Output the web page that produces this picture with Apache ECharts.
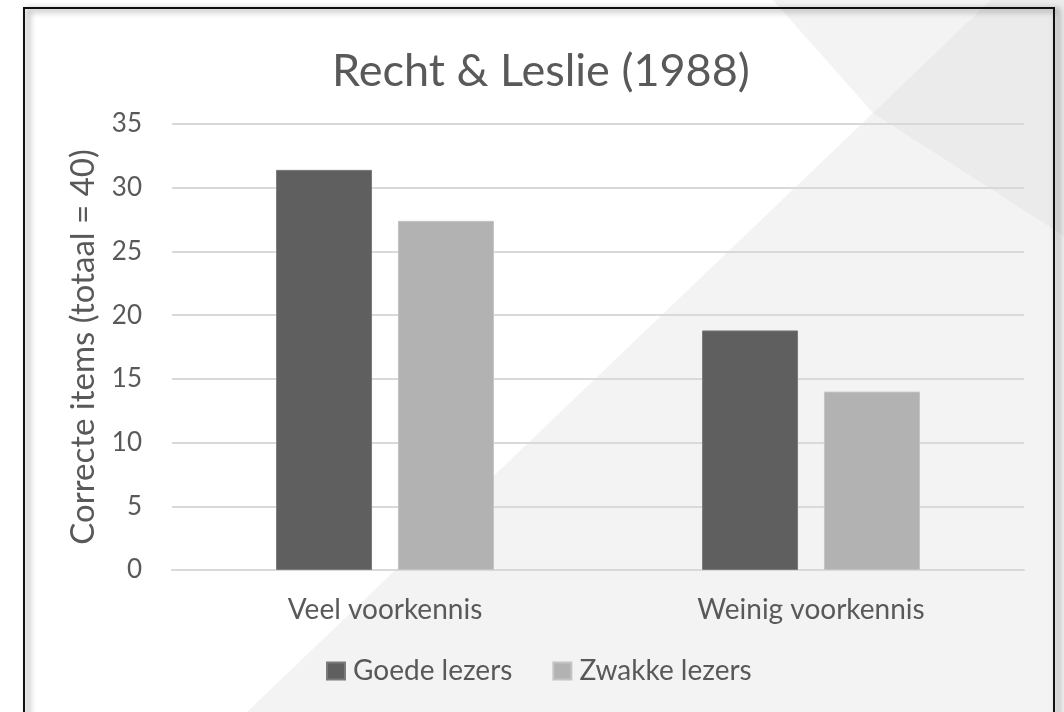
<!DOCTYPE html>
<html>
<head>
<meta charset="utf-8">
<title>Recht & Leslie (1988)</title>
<script src="https://cdn.jsdelivr.net/npm/echarts@6/dist/echarts.min.js"></script>
<style>
html, body { margin: 0; padding: 0; background: #fff; }
#chart_main { width: 1064px; height: 712px; }
</style>
</head>
<body>
<div id="chart_main"></div>
<script type="text/javascript">
// data
var categories = ['Veel voorkennis', 'Weinig voorkennis'];
var goede_lezers = [31.4, 18.8];
var zwakke_lezers = [27.4, 14.0];
var y_ticks = [0, 35, 5]; // min, max, interval

var font = 'Lato';
var txt = '#595959';

var myChart = echarts.init(document.getElementById('chart_main'));
var option = {
	backgroundColor: '#f3f3f3',
	animation: false,
	textStyle: {fontFamily: font, color: txt},
	// slide decoration + frame
	graphic: [
		{type: 'polygon', z: -10, silent: true,
			shape: {points: [[0, 0], [773, 0], [873, 113], [247, 712], [0, 712]]},
			style: {fill: '#ffffff'}},
		{type: 'polygon', z: -10, silent: true,
			shape: {points: [[873, 113], [991, 0], [1064, 0], [1064, 236]]},
			style: {fill: '#ebebeb'}},
		{type: 'rect', z: 100, silent: true,
			shape: {x: 24, y: 8, width: 1030, height: 720},
			style: {fill: null, stroke: '#111', lineWidth: 2,
				shadowBlur: 6, shadowOffsetX: 4, shadowOffsetY: 2, shadowColor: 'rgba(0,0,0,0.55)'}}
	],
	title: {
		text: 'Recht & Leslie (1988)',
		left: 327,
		top: 44,
		textStyle: {fontFamily: font, fontSize: 45, fontWeight: 'normal', color: txt}
	},
	legend: {
		data: ['Goede lezers', 'Zwakke lezers'],
		left: 321,
		top: 652,
		itemWidth: 18,
		itemHeight: 17,
		itemGap: 40,
		icon: 'rect',
		textStyle: {fontFamily: font, fontSize: 28, color: txt, padding: [0, 0, 0, 3]}
	},
	grid: {left: 172, right: 40, top: 124, bottom: 142, containLabel: false},
	xAxis: {
		type: 'category',
		data: categories,
		axisLine: {lineStyle: {color: '#d9d9d9', width: 2}},
		axisTick: {show: false},
		axisLabel: {fontFamily: font, fontSize: 28, color: txt, margin: 26}
	},
	yAxis: {
		type: 'value',
		min: y_ticks[0],
		max: y_ticks[1],
		interval: y_ticks[2],
		name: 'Correcte items (totaal = 40)',
		nameLocation: 'middle',
		nameGap: 72,
		nameTextStyle: {fontFamily: font, fontSize: 33, color: txt},
		axisLine: {show: false},
		axisTick: {show: false},
		axisLabel: {fontFamily: font, fontSize: 26, color: txt, margin: 30},
		splitLine: {lineStyle: {color: '#d9d9d9', width: 2}}
	},
	series: [
		{name: 'Goede lezers', type: 'bar', data: goede_lezers, barWidth: 96, barGap: '27%',
			itemStyle: {color: '#5f5f5f', borderColor: '#7a7a7a', borderWidth: 1}},
		{name: 'Zwakke lezers', type: 'bar', data: zwakke_lezers, barWidth: 96,
			itemStyle: {color: '#b2b2b2', borderColor: '#c4c4c4', borderWidth: 1}}
	]
};
myChart.setOption(option);
</script>
</body>
</html>
